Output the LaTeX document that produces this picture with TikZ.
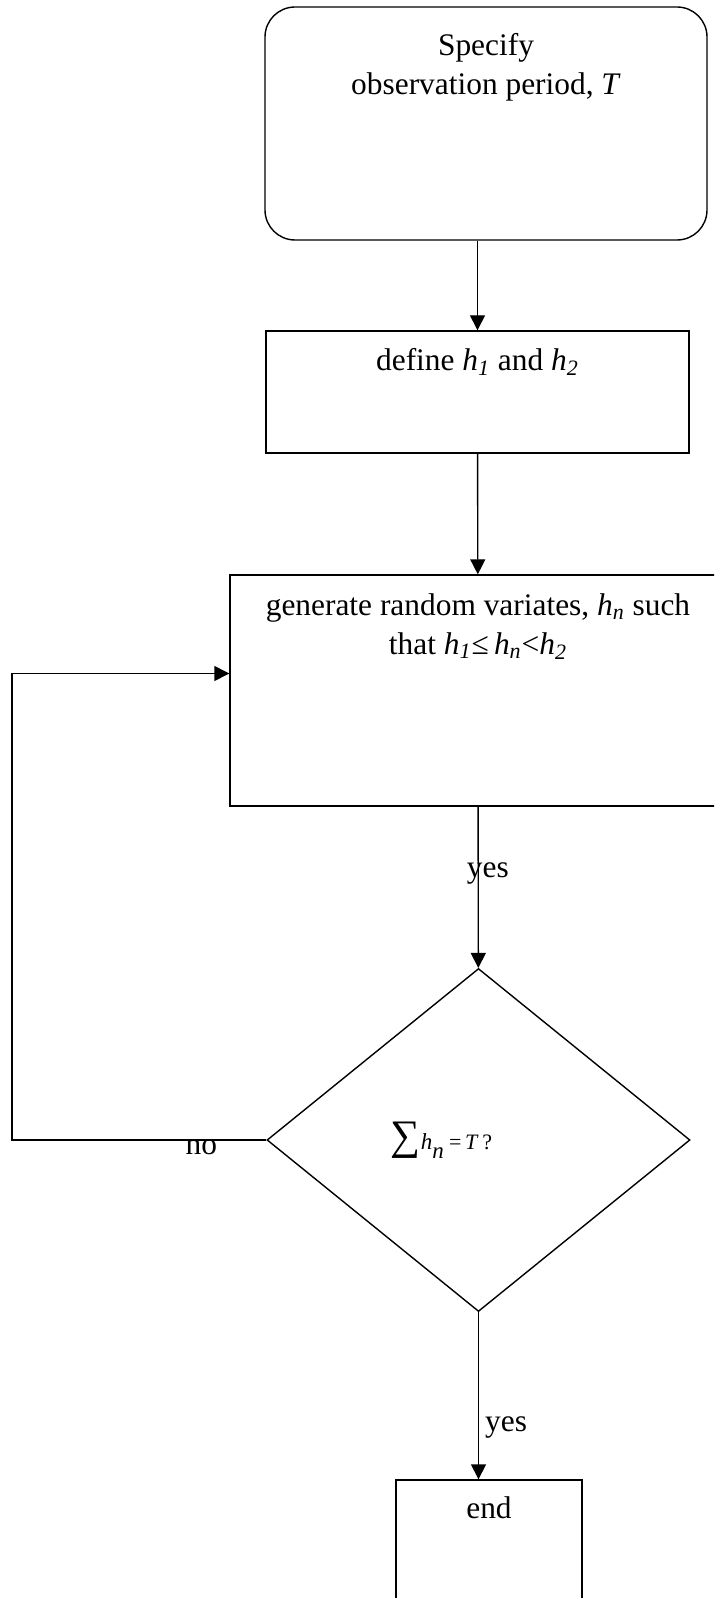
\documentclass[tikz,border=0pt]{standalone}
\usepackage{fontspec}
\setmainfont{Liberation Serif}
\usepackage{tikz}
\usetikzlibrary{arrows.meta,shapes.geometric}
\tikzset{blk/.style={draw,inner sep=0pt}}
\tikzset{btxt/.style={anchor=north,align=center,inner sep=0pt}}
\tikzstyle{lbl}=[inner sep=0pt, anchor=base west]
\newcommand{\hsub}[1]{\textit{h}\textsubscript{\textit{#1}}}

\begin{document}
\begin{tikzpicture}[x=0.5pt,y=-0.5pt,>={Triangle[length=7.5pt,width=7.5pt]},
    font=\fontsize{15.7}{19.5}\selectfont,line width=0.7pt]
    \clip (0,0) rectangle (714,1598);
    \node [blk, rounded corners=15pt, minimum width=221pt, minimum height=116.5pt,
      label={[btxt, yshift=-13.3pt]north:Specify\\observation period, \textit{T}}] (spec) at (486,123.5) {};
    \node [blk, minimum width=211.5pt, minimum height=61pt,
      label={[btxt, yshift=-8.8pt]north:define \hsub{1} and \hsub{2}}] (def) at (477.5,392) {};
    \node [blk, minimum width=248pt, minimum height=115.5pt,
      label={[btxt, yshift=-9.3pt]north:generate random variates, \hsub{n} such\\that \hsub{1}≤\,\hsub{n}<\hsub{2}}] (gen) at (478,690.5) {};
    \node [blk, diamond, minimum width=211.5pt, minimum height=171.5pt,
      label={[xshift=-18.5pt]center:{\fontsize{21}{21}\selectfont ∑}{\fontsize{11.5}{13}\selectfont\textit{h}\raisebox{-4.5pt}{\textit{n}}}\,{\fontsize{11}{13}\selectfont =\,\textit{T}\,?}}] (chk) at (478.5,1140) {};
    \node [blk, minimum width=93pt, minimum height=65pt,
      label={[btxt, yshift=-8.3pt]north:end}] (fin) at (489,1545) {};
    \coordinate (loop) at (12,673.5);
    \draw[->] (spec.south -| def.north) -- (def.north);
    \path[->] (def) edge node {} (gen);
    \path[->] (gen) edge node[lbl, pos=0.44, xshift=-6pt] {yes} (chk);
    \draw[->] (chk.south) -- (chk.south |- fin.north) node[lbl, pos=0.714, xshift=3pt] {yes};
    \draw[->] (chk.west) -- node[lbl, pos=0.32, yshift=-7pt] {no} (chk.west -| loop) -- (loop) -- (loop -| gen.west);
\end{tikzpicture}
\end{document}
